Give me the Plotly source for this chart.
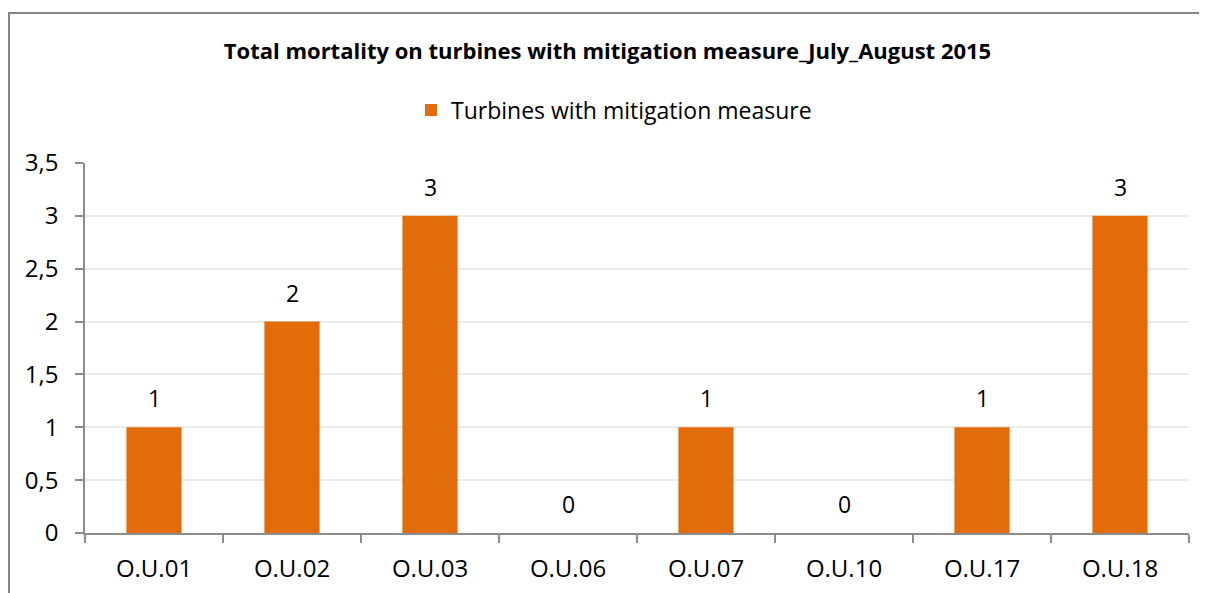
import plotly.graph_objects as go

ORANGE = "#E36C0A"
GRID = "#EBEBEB"
AXIS = "#8C8C8C"

turbines = ["O.U.01", "O.U.02", "O.U.03", "O.U.06", "O.U.07", "O.U.10", "O.U.17", "O.U.18"]
mortality = [1, 2, 3, 0, 1, 0, 1, 3]
series_name = "Turbines with mitigation measure"
title = "Total mortality on turbines with mitigation measure_July_August 2015"

FONT = "Open Sans, Noto Sans, sans-serif"

# page body has an 8px margin, so the figure is sized/placed to compensate
W, H = 1199, 585
L, R, T, B = 77, 18, 155, 60
PW, PH = W - L - R, H - T - B

fig = go.Figure(go.Bar(
    x=turbines, y=mortality, name=series_name,
    marker=dict(color=ORANGE, line=dict(width=0)),
    showlegend=True,
))

# data labels sit well above the bar top like in Excel
for t, v in zip(turbines, mortality):
    fig.add_annotation(x=t, y=v, text=str(v), showarrow=False,
                       yanchor="middle", yshift=29,
                       font=dict(size=23, color="#000000"))

# chart-area border
fig.add_shape(type="rect", xref="paper", yref="paper",
              x0=(1 - L) / PW, x1=(W + 20 - L) / PW,
              y0=-(B + 20) / PH, y1=(PH + T - 5) / PH,
              line=dict(color="#868686", width=2), layer="below")

fig.update_layout(
    width=W, height=H,
    paper_bgcolor="white", plot_bgcolor="white",
    margin=dict(l=L, r=R, t=T, b=B),
    separators=",.",
    font=dict(family=FONT, size=23, color="#000000"),
    title=dict(text=f"<b>{title}</b>", x=0.5, xanchor="center",
               yref="container", y=1 - 43 / H, yanchor="middle",
               font=dict(size=22, color="#000000")),
    legend=dict(orientation="h", x=0.5 - 23 / PW, xanchor="center",
                yref="container", y=1 - 102 / H, yanchor="middle",
                font=dict(size=23)),
    bargap=0.6,
    xaxis=dict(showline=True, linecolor=AXIS, linewidth=1.5,
               ticks="outside", tickson="boundaries", ticklen=8,
               tickcolor=AXIS, tickwidth=1.5, showgrid=False,
               automargin=False,
               ticklabelstandoff=13, tickfont=dict(size=24)),
    yaxis=dict(range=[0, 3.5], dtick=0.5, showline=True, linecolor=AXIS,
               linewidth=1.5, ticks="outside", ticklen=8, tickcolor=AXIS,
               tickwidth=1.5, gridcolor=GRID, gridwidth=1.5,
               automargin=False,
               zeroline=False, ticklabelstandoff=12, tickfont=dict(size=24)),
)

fig.write_html("out.html")
